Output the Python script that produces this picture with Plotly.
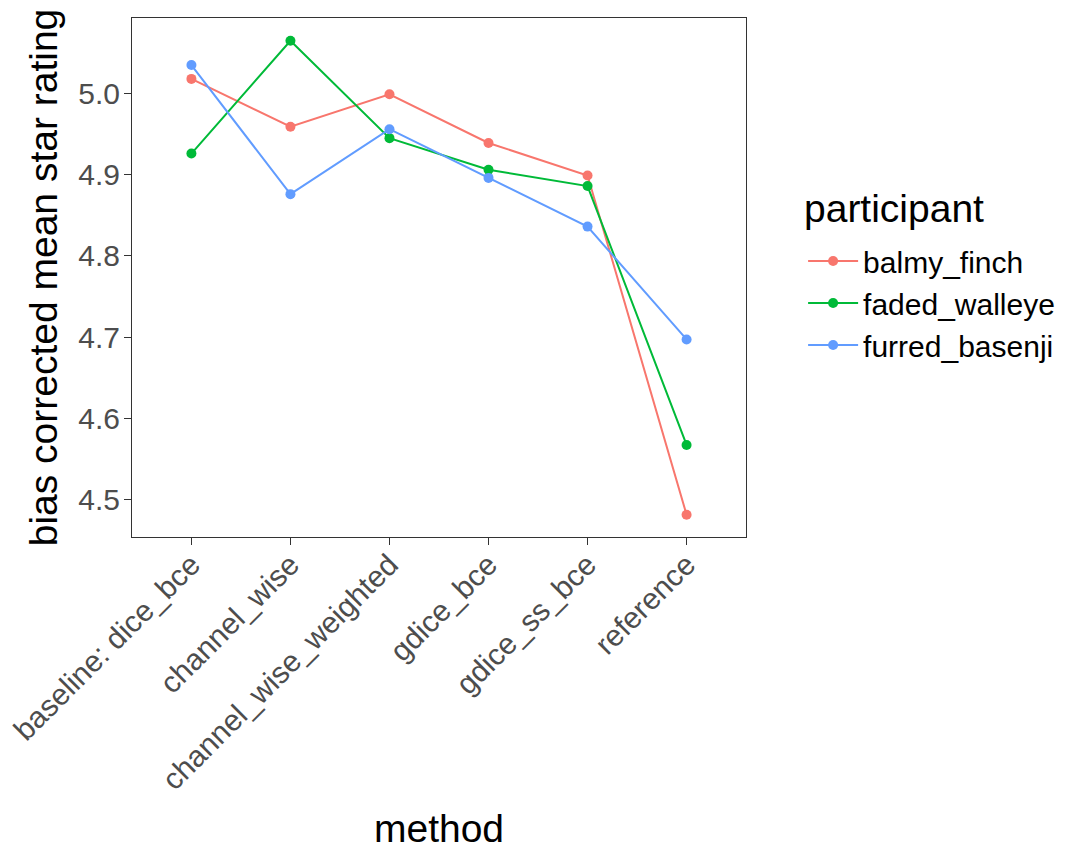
import plotly.graph_objects as go

methods = ["baseline: dice_bce", "channel_wise", "channel_wise_weighted",
           "gdice_bce", "gdice_ss_bce", "reference"]
participants = ["balmy_finch", "faded_walleye", "furred_basenji"]
balmy_finch = [5.018, 4.959, 4.999, 4.939, 4.899, 4.481]
faded_walleye = [4.926, 5.065, 4.945, 4.906, 4.886, 4.567]
furred_basenji = [5.035, 4.876, 4.956, 4.896, 4.836, 4.697]
series = [balmy_finch, faded_walleye, furred_basenji]
colors = ["#F8766D", "#00BA38", "#619CFF"]
y_ticks = [4.5, 4.6, 4.7, 4.8, 4.9, 5.0]

FONT = "Liberation Sans, Arial, sans-serif"

fig = go.Figure()
for name, vals, col in zip(participants, series, colors):
    fig.add_trace(go.Scatter(
        x=methods, y=vals, name=name, mode="lines+markers",
        line=dict(color=col, width=2),
        marker=dict(color=col, size=10),
    ))

fig.update_layout(
    width=1067, height=850,
    margin=dict(l=132, r=321, t=18, b=313, autoexpand=False),
    paper_bgcolor="white", plot_bgcolor="white",
    font=dict(family=FONT, color="black"),
    showlegend=True,
    legend=dict(
        x=1.093, y=0.582, xanchor="left", yanchor="top",
        font=dict(size=30, color="black"),
        bgcolor="rgba(0,0,0,0)",
        itemwidth=50,
        tracegroupgap=0,
    ),
    annotations=[dict(
        text="participant", xref="paper", yref="paper",
        x=1.091, y=0.632, xanchor="left", yanchor="middle",
        showarrow=False, font=dict(size=39, color="black", family=FONT),
    )],
)
fig.update_xaxes(
    type="category", range=[-0.6, 5.6],
    showgrid=False, zeroline=False,
    showline=True, linecolor="#333333", linewidth=1, mirror=True,
    ticks="outside", ticklen=7, tickcolor="#333333", tickwidth=1,
    tickangle=-45, tickfont=dict(size=30, color="#4d4d4d", family=FONT),
    ticklabelstandoff=-10,
    title=dict(text="method", font=dict(size=39, color="black"), standoff=32),
    automargin=False,
)
fig.update_yaxes(
    range=[4.4536, 5.093],
    tickvals=y_ticks, ticktext=[f"{v:.1f}" for v in y_ticks],
    showgrid=False, zeroline=False,
    showline=True, linecolor="#333333", linewidth=1, mirror=True,
    ticks="outside", ticklen=7, tickcolor="#333333", tickwidth=1,
    tickfont=dict(size=30, color="#4d4d4d", family=FONT),
    ticklabelstandoff=-2,
    title=dict(text="bias corrected mean star rating", font=dict(size=39, color="black"), standoff=8),
    automargin=False,
)

fig.write_html("out.html")
